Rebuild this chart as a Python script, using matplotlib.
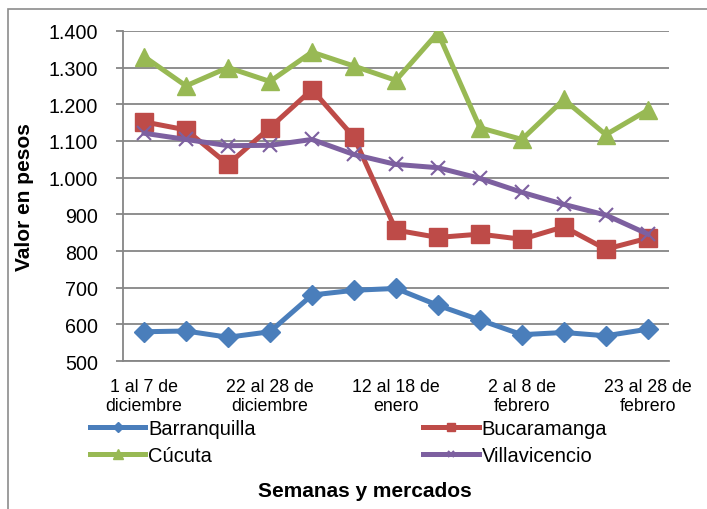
import numpy as np
import matplotlib
matplotlib.use("Agg")
import matplotlib.pyplot as plt
from matplotlib.patches import Rectangle

plt.rcParams['font.family'] = ['Liberation Sans', 'DejaVu Sans']

# semanas (13), solo cada tercera lleva etiqueta
semanas = list(range(13))
etiquetas = {0: "1 al 7 de\ndiciembre", 3: "22 al 28 de\ndiciembre",
             6: "12 al 18 de\nenero", 9: "2 al 8 de\nfebrero",
             12: "23 al 28 de\nfebrero"}

barranquilla = [580, 582, 565, 580, 680, 693, 698, 652, 612, 572, 578, 569, 587]
bucaramanga = [1152, 1130, 1036, 1136, 1240, 1110, 857, 837, 846, 832, 866, 805, 835]
cucuta = [1330, 1250, 1300, 1262, 1342, 1304, 1265, 1395, 1136, 1104, 1213, 1117, 1184]
villavicencio = [1121, 1104, 1087, 1088, 1104, 1063, 1036, 1027, 998, 960, 927, 898, 846]

fig = plt.figure(figsize=(7.07, 5.10), dpi=100)
ax = fig.add_axes([0.174, 0.29, 0.772, 0.6476])

# marco del gráfico
fig.patches.append(Rectangle((8 / 707, -0.1), 1.2, 1 - 9.5 / 510 + 0.1,
                             transform=fig.transFigure, fill=False,
                             edgecolor='#8c8c8c', lw=1.2))

lw = 3.6
l1, = ax.plot(semanas, barranquilla, color='#4A7EBB', lw=lw, marker='D', ms=10.5,
              label='Barranquilla')
l2, = ax.plot(semanas, bucaramanga, color='#BE4B48', lw=lw, marker='s', ms=12.5,
              label='Bucaramanga')
l3, = ax.plot(semanas, cucuta, color='#98B954', lw=lw, marker='^', ms=13,
              label='Cúcuta')
l4, = ax.plot(semanas, villavicencio, color='#7D60A0', lw=lw, marker='x', ms=10,
              mew=1.5, label='Villavicencio')

ax.set_xlim(-0.5, 12.5)
ax.set_ylim(500, 1400)
ax.set_yticks(np.arange(500, 1401, 100))
ax.set_yticklabels([f"{v:,}".replace(",", ".") for v in range(500, 1401, 100)])
ax.set_xticks(list(etiquetas.keys()))
ax.set_xticklabels(list(etiquetas.values()), linespacing=1.2)

ax.grid(axis='y', color='#868686', lw=1.3)
ax.set_axisbelow(True)
for s in ['top', 'right']:
    ax.spines[s].set_visible(False)
for s in ['left', 'bottom']:
    ax.spines[s].set_color('#868686')
    ax.spines[s].set_linewidth(1.3)
ax.tick_params(axis='y', length=5, color='#868686', width=1.3, labelsize=14.2, pad=13)
ax.tick_params(axis='x', length=0, labelsize=12.8, pad=12)

fig.text(25 / 707, 1 - 197 / 510, 'Valor en pesos', fontsize=15, fontweight='bold',
         rotation=90, ha='center', va='center')
fig.text(365 / 707, 1 - 492 / 510, 'Semanas y mercados', fontsize=15, fontweight='bold',
         ha='center', va='center')

# orden por filas: Barranquilla, Bucaramanga / Cúcuta, Villavicencio
fig.legend([l1, l3, l2, l4], ['Barranquilla', 'Cúcuta', 'Bucaramanga', 'Villavicencio'],
           loc='upper left', bbox_to_anchor=(90 / 707, 1 - 420 / 510), ncol=2,
           frameon=False, fontsize=14.5, handlelength=2.75, handletextpad=0.15,
           columnspacing=8.3, labelspacing=0.38, markerscale=0.5,
           borderaxespad=0, borderpad=0)

fig.savefig('out.png', dpi=100)
